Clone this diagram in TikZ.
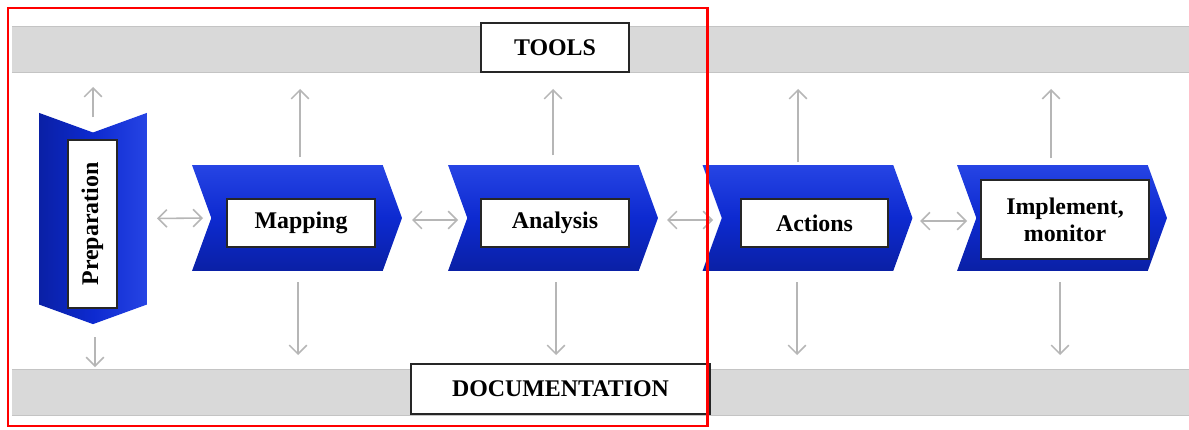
\documentclass[tikz,border=0pt]{standalone}
\usepackage{fontspec}
\setmainfont{Liberation Serif}
\usetikzlibrary{shapes.symbols,arrows.meta,calc}
\definecolor{bandgray}{RGB}{217,217,217}
\definecolor{bandedge}{RGB}{196,196,196}
\definecolor{arrgray}{RGB}{182,182,182}
\definecolor{chevtop}{RGB}{38,68,228}
\definecolor{chevmid}{RGB}{13,42,208}
\definecolor{chevbot}{RGB}{10,32,165}
\definecolor{framered}{RGB}{255,0,0}
\begin{document}
\begin{tikzpicture}[x=0.02cm,y=-0.02cm,
  lbl/.style={font=\fontsize{13.6}{15.5}\selectfont\bfseries},
  band/.style={fill=bandgray,draw=none,minimum width=23.54cm,minimum height=0.9cm,inner sep=0pt},
  chev/.style={shape=signal,signal pointer angle=140,inner sep=0pt,draw=none},
  hchev/.style={chev,signal from=west,signal to=east,minimum width=4.2cm,minimum height=2.12cm,
    top color=chevtop,bottom color=chevbot,middle color=chevmid},
  vchev/.style={chev,signal from=north,signal to=south,minimum width=2.16cm,minimum height=3.44cm,
    left color=chevbot,right color=chevtop,middle color=chevmid},
  whitebox/.style={draw=black!85,line width=0.7pt,fill=white,inner sep=0pt,align=center,lbl},
  arr/.style={draw=arrgray,line width=0.9pt,-{Straight Barb[length=5pt,width=10pt]}},
  darr/.style={draw=arrgray,line width=0.9pt,{Straight Barb[length=5pt,width=10pt]}-{Straight Barb[length=5pt,width=10pt]}},
]
\useasboundingbox (0,0) rectangle (1189,429);
\fill[white] (0,0) rectangle (1189,429);

% grey bands
\node[band] (topband) at (600.5,49.5) {};
\node[band] (botband) at (600.5,392.5) {};
\foreach \b in {topband,botband}{
  \draw[bandedge,line width=0.9pt] (\b.north west) -- (\b.north east);
  \draw[bandedge,line width=0.9pt] (\b.south west) -- (\b.south east);
}

% band labels
\node[whitebox,minimum width=2.96cm,minimum height=0.98cm] (tools) at (555,47.5) {TOOLS};
\node[whitebox,minimum width=5.98cm,minimum height=1.0cm] (doc) at (560.5,389) {DOCUMENTATION};

% process chevrons
\node[vchev] (prep) at (93,218.5) {};
\node[hchev] (map) at (297,218) {};
\node[hchev] (ana) at (553,218) {};
\node[hchev] (act) at (807.5,218) {};
\node[hchev] (imp) at (1062,218) {};

% step labels
\node[whitebox,rotate=90,minimum width=3.36cm,minimum height=0.98cm] (preplbl) at (92.5,224) {Preparation};
\node[whitebox,minimum width=2.96cm,minimum height=0.96cm] (maplbl) at (301,223) {Mapping};
\node[whitebox,minimum width=2.96cm,minimum height=0.96cm] (analbl) at (555,223) {Analysis};
\node[whitebox,minimum width=2.94cm,minimum height=0.96cm] (actlbl) at (814.5,223) {Actions};
\node[whitebox,minimum width=3.36cm,minimum height=1.58cm] (implbl) at (1065,219.5) {Implement,\\monitor};

% links to tools and documentation
\draw[arr] ($(prep)+(0,-101.5)$) -- ($(prep)+(0,-131.5)$);
\draw[arr] ($(prep)+(2,118.5)$) -- ($(prep)+(2,148.5)$);
\foreach \n/\ux/\dx/\uy in {map/3/1/-61, ana/0/3/-63, act/-9.5/-10.5/-56, imp/-11/-2/-60}{
  \draw[arr] ($(\n)+(\ux,\uy)$) -- ($(\n)+(\ux,-129)$);
  \draw[arr] ($(\n)+(\dx,64)$) -- ($(\n)+(\dx,137)$);
}

% links between steps
\draw[darr] ($(prep)+(64,0)$) -- ($(map)+(-94,0)$);
\draw[darr] ($(map)+(115,2)$) -- ($(ana)+(-95,2)$);
\draw[darr] ($(ana)+(114,2)$) -- ($(act)+(-94.5,2)$);
\draw[darr] ($(act)+(112.5,3)$) -- ($(imp)+(-95,3)$);

% highlighted section
\draw[framered,line width=1.7pt] (8,8) rectangle (707,426);
\end{tikzpicture}
\end{document}
